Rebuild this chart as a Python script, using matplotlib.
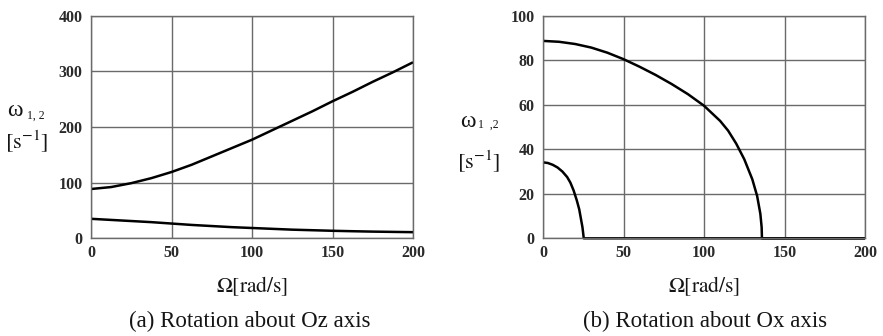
import matplotlib
matplotlib.use("Agg")
import matplotlib.pyplot as plt

plt.rcParams["font.family"] = ["Liberation Serif", "DejaVu Serif"]
plt.rcParams["mathtext.fontset"] = "stix"

# (a) rotation about Oz axis: natural frequencies vs spin speed
omega_z = [0, 12.5, 25, 37.5, 50, 62.5, 75, 87.5, 100, 112.5, 125, 137.5, 150, 162.5, 175, 187.5, 200]
w1_z = [88.5, 92, 99, 108, 119, 132, 147, 162, 177, 194, 211, 228, 246, 263, 281, 298, 316]
w2_z = [35, 33, 31, 29, 26.5, 24, 22, 20, 18.5, 17, 15.5, 14.5, 13.5, 12.7, 12, 11.5, 11]

# (b) rotation about Ox axis
omega_x1 = [0, 10, 20, 30, 40, 50, 60, 70, 80, 90, 100, 110, 115, 120, 125, 130,
            133, 135, 135.8, 136, 150, 200]
w1_x = [88.6, 88.2, 87.2, 85.6, 83.3, 80.4, 77, 73.3, 69.2, 64.7, 59.5, 52.7, 48.3, 42.5,
        35.5, 26.5, 19, 11, 5, 0, 0, 0]
omega_x2 = [0, 3, 6, 9, 12, 15, 17, 19, 21, 22.5, 23.5, 24.5, 25, 25.3, 50, 100, 200]
w2_x = [34.1, 33.8, 33, 31.8, 30, 27.5, 25, 21.5, 17, 13, 9, 5, 2, 0, 0, 0, 0]

x_ticks = [0, 50, 100, 150, 200]
y_ticks_a = [0, 100, 200, 300, 400]
y_ticks_b = [0, 20, 40, 60, 80, 100]

W, H = 883, 336
fig = plt.figure(figsize=(W / 100, H / 100), dpi=100)

grid_c = "#6a6a6a"
text_c = "#151515"


def make_axes(left_px, right_px, yticks):
    top_px, bottom_px = 15.5, 238.3
    ax = fig.add_axes([left_px / W, 1 - bottom_px / H,
                       (right_px - left_px) / W, (bottom_px - top_px) / H])
    ax.set_xlim(0, 200)
    ax.set_ylim(yticks[0], yticks[-1])
    ax.set_xticks(x_ticks)
    ax.set_yticks(yticks)
    ax.grid(True, color=grid_c, lw=1.0)
    ax.set_axisbelow(True)
    for s in ax.spines.values():
        s.set_color(grid_c)
        s.set_linewidth(1.0)
    ax.tick_params(length=0, labelsize=11.5, colors="#2a2a2a")
    ax.tick_params(axis="y", pad=6)
    ax.tick_params(axis="x", pad=5)
    for lab in ax.get_xticklabels() + ax.get_yticklabels():
        lab.set_fontweight("bold")
    return ax


ax1 = make_axes(91, 413, y_ticks_a)
ax1.plot(omega_z, w1_z, color="black", lw=1.8, solid_capstyle="butt")
ax1.plot(omega_z, w2_z, color="black", lw=1.8, solid_capstyle="butt")

ax2 = make_axes(543, 865, y_ticks_b)
ax2.plot(omega_x1, w1_x, color="black", lw=1.8, solid_capstyle="butt", clip_on=False)
ax2.plot(omega_x2, w2_x, color="black", lw=1.8, solid_capstyle="butt", clip_on=False)


def px(x, y):
    return x / W, 1 - y / H


# y-axis labels
fig.text(*px(7, 111), "ω", fontsize=17, ha="left", va="center", color=text_c)
fig.text(*px(27, 116), "1, 2", fontsize=8.5, ha="left", va="center", color=text_c)
fig.text(*px(5, 142), r"$\left[\mathrm{s}^{-1}\right]$", fontsize=16, ha="left", va="center", color=text_c)

fig.text(*px(460, 121), "ω", fontsize=17, ha="left", va="center", color=text_c)
fig.text(*px(478, 125), "1  ,2", fontsize=8.5, ha="left", va="center", color=text_c)
fig.text(*px(457, 162), r"$\left[\mathrm{s}^{-1}\right]$", fontsize=16, ha="left", va="center", color=text_c)

# x-axis labels
for cx in (252, 704):
    fig.text(*px(cx, 286), r"$\Omega\left[\mathrm{rad/s}\right]$", fontsize=15.5,
             ha="center", va="center", color=text_c)

# captions
fig.text(*px(250, 321), "(a) Rotation about Oz axis", fontsize=16.5,
         ha="center", va="center", color=text_c)
fig.text(*px(705, 321), "(b) Rotation about Ox axis", fontsize=16.5,
         ha="center", va="center", color=text_c)

fig.savefig("out.png", dpi=100, facecolor="white")
